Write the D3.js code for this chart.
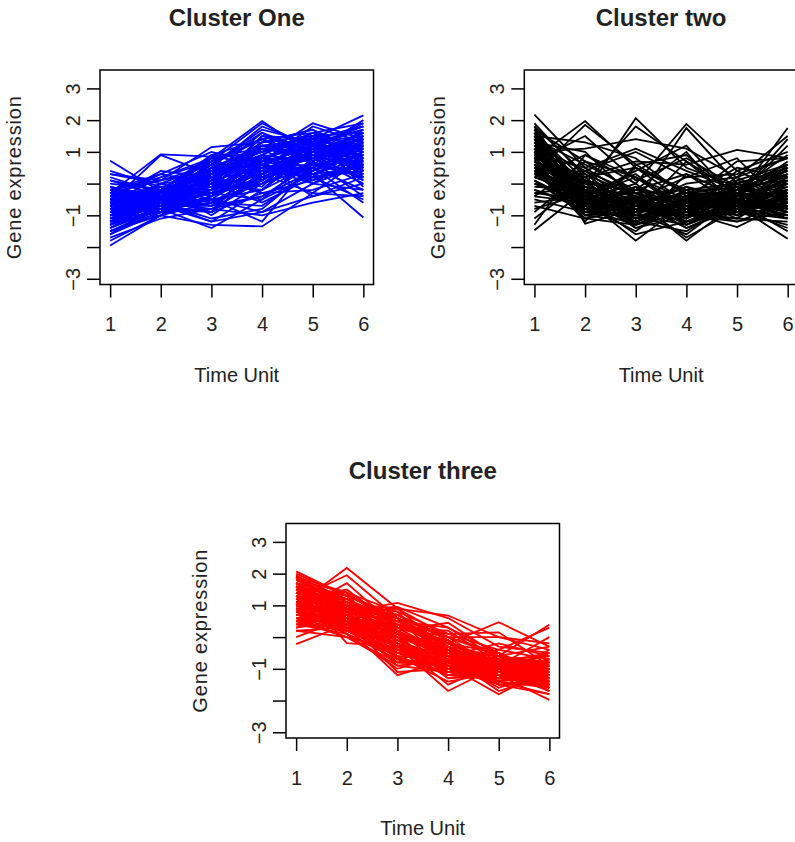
<!DOCTYPE html>
<html>
<head>
<meta charset="utf-8">
<script src="https://cdn.jsdelivr.net/npm/d3@7"></script>
<style>
body { margin: 0; background: #fff; }
svg text { font-family: "Liberation Sans", Arial, Helvetica, sans-serif; fill: #222; }
</style>
</head>
<body>
<div id="chart"></div>
<script>
// time points and axis ticks
var timeUnits = [1, 2, 3, 4, 5, 6];
var yTicks = [-3, -2, -1, 0, 1, 2, 3];
var yTickLabels = ["\u22123", "", "\u22121", "", "1", "2", "3"];
var titles = ["Cluster One", "Cluster two", "Cluster three"];

// one row per gene, values at time 1..6
var clusterOne = [
    [0.72, -0.25, -0.3, 0.2, 0.9, 1.2],
    [-1.95, -1.0, -0.6, 0.3, 1.0, 0.8],
    [-0.3, 0.92, 0.85, 1.1, 1.3, 1.5],
    [-0.6, 0.9, 0.3, 0.6, 0.4, 0.9],
    [-0.2, 0.1, 1.15, 1.3, 1.5, 1.6],
    [-0.5, -0.2, 0.8, 1.97, 0.9, 1.2],
    [-0.8, -0.4, 0.2, 0.9, 1.9, 1.4],
    [-0.6, -0.3, 0.5, 1.2, 1.4, 2.15],
    [-0.9, -0.8, -1.4, -0.5, 0.3, 0.5],
    [-1.2, -1.0, -1.3, -1.35, -0.3, -0.4],
    [-0.5, -0.6, -0.8, -1.0, -0.6, -0.3],
    [-0.3, -0.5, 0.1, 0.5, 0.3, -1.07],
    [0.4, -0.1, -0.5, -0.2, 0.6, 0.3],
    [0.3, 0.0, 0.2, 0.7, 1.1, 0.9],
    [0.1, -0.4, -0.9, -0.3, 0.1, 0.7],
    [-1.6, -0.9, -0.4, 0.6, 1.2, 1.7],
    [-1.4, -0.7, 0.0, 0.4, 0.8, 0.2],
    [-1.1, -0.5, -0.2, 1.5, 1.0, 0.6],
    [-0.7, -0.2, 0.4, 1.0, 1.6, 1.9],
    [-1.3, -0.6, -1.1, -0.8, 0.5, 1.1],
    [-0.9, -0.3, 0.6, 1.7, 1.3, 0.4],
    [-0.4, 0.3, 0.0, -0.6, 0.2, 1.3],
    [-1.0, -0.8, -0.6, 0.1, 1.4, 1.8],
    [-0.8, -0.1, -0.3, 0.9, 0.0, -0.2],
    [-1.5, -0.9, 0.3, 1.3, 1.7, 1.0],
    [-0.2, -0.7, -1.2, -0.9, -0.4, 0.0],
    [-0.6, 0.2, 0.7, 1.4, 0.6, 1.5],
    [-1.2, -0.4, -0.7, 0.2, 0.9, 0.5],
    [0.2, -0.3, 0.4, 0.8, 1.2, 0.1],
    [-1.7, -1.1, -0.8, -0.4, 0.4, 1.4],
    [-0.1, -0.5, -0.1, 0.3, -0.3, 0.8],
    [-1.0, -0.2, 0.9, 0.5, 1.5, 1.2],
    [-0.7, -0.6, -0.5, -1.2, 0.7, 1.6],
    [-1.3, -0.8, 0.1, 1.1, 0.2, -0.5],
    [-0.4, -0.1, -1.0, 0.0, 1.1, 1.9],
    [-0.9, -0.4, 0.5, 1.8, 1.2, 0.7],
    [-0.5, 0.4, 0.2, -0.3, -0.2, 0.3],
    [-1.1, -0.7, -0.3, 0.7, 1.8, 1.3],
    [-0.3, -0.6, 0.6, 0.2, 0.5, -0.6],
    [-1.4, -0.5, -0.9, 0.4, 1.0, 2.0],
    [-0.6, -0.9, 0.0, 1.2, 0.8, 0.0],
    [-0.2, 0.3, 1.0, 0.6, 0.1, 0.6],
    [-0.8, -0.3, -0.6, -0.7, 0.4, 1.0],
    [-1.8, -1.0, -0.2, 0.9, 1.6, 1.1],
    [0.0, -0.2, 0.3, 1.6, 0.7, 1.7],
    [-1.0, -0.6, -1.2, -0.2, 1.3, 0.4],
    [-0.5, -0.4, 0.8, 0.1, 1.0, 1.4],
    [-0.7, 0.0, -0.4, 0.6, -0.4, 0.2],
    [-1.2, -0.9, 0.4, 1.0, 1.4, 1.8],
    [-0.4, -0.7, -0.7, 0.5, 0.6, 0.9],
    [-0.9, -0.1, 0.1, 1.3, 1.7, 0.8],
    [-1.5, -0.8, -0.5, -0.9, 0.0, 0.6],
    [0.3, 0.1, 0.6, 0.3, 0.9, 1.6],
    [-0.6, -0.5, 0.2, -0.1, 1.5, -0.1],
    [-1.1, -0.2, 0.7, 1.9, 1.1, 1.2],
    [-0.3, -0.8, -0.9, 0.8, 0.3, 1.0],
    [-0.8, -0.6, 0.5, 0.4, 1.2, 0.3],
    [-1.3, -0.3, -0.1, 1.1, 0.8, 1.5],
    [-0.1, -0.4, 0.9, 1.4, 1.6, 0.5],
    [-1.0, -0.7, -0.3, 0.0, 0.5, -0.2],
    [-0.7, -0.5, -0.2, 0.3, 1.0, 1.1],
    [-1.2, -0.6, 0.2, 0.8, 1.3, 0.9],
    [-0.4, -0.3, -0.6, 0.0, 0.7, 1.3],
    [-0.9, -0.7, 0.3, 0.6, 0.2, 0.4],
    [-0.2, -0.4, 0.5, 1.1, 1.0, 1.6],
    [-1.4, -0.8, -0.4, 0.2, 0.6, 0.7],
    [-0.6, -0.1, 0.0, 0.8, 1.4, 0.2],
    [-1.0, -0.5, 0.6, 1.4, 0.9, 1.4],
    [0.1, -0.2, -0.2, 0.4, 0.5, 1.1],
    [-0.8, -0.9, -0.8, 0.1, 1.1, 0.6],
    [-1.2, -0.3, 0.3, 0.7, 0.4, 1.2],
    [-0.5, -0.7, 0.1, 1.3, 1.5, 0.8],
    [-1.6, -0.6, -0.3, -0.5, 0.8, 1.3],
    [-0.3, 0.1, 0.4, 0.9, 0.7, -0.4],
    [-0.9, -0.4, -0.1, 0.6, 1.3, 1.7],
    [-0.7, -0.6, 0.7, 0.2, 0.9, 0.1],
    [-1.1, -0.9, -0.5, 0.5, 0.0, 0.9],
    [-0.4, -0.2, 0.2, 1.2, 1.1, 1.0],
    [-1.3, -0.5, 0.5, 0.3, 1.2, 0.5],
    [-0.6, -0.8, -0.4, 0.8, 0.5, 1.5],
    [-0.2, 0.2, 0.8, 1.0, 1.3, 0.7],
    [-1.0, -0.4, -0.7, -0.4, 0.6, 0.2],
    [-0.8, -0.2, 0.0, 1.5, 1.4, 1.1],
    [-1.5, -1.0, 0.2, 0.9, 0.3, 0.8],
    [-0.5, -0.5, -0.3, 0.1, 1.2, 1.8],
    [-0.1, -0.6, 0.3, 0.7, 0.9, 0.4],
    [-1.2, -0.7, -0.9, 0.3, 0.8, 1.2],
    [-0.7, 0.0, 0.6, 1.6, 1.0, 0.9],
    [-0.9, -0.6, 0.0, -0.2, 1.0, 1.4],
    [-0.3, -0.3, 0.4, 0.4, 0.2, 0.6]
];

var clusterTwo = [
    [2.17, 0.5, -0.5, -0.8, -0.3, 0.0],
    [-1.47, -0.2, -0.6, -0.3, -0.8, -0.5],
    [-1.3, 0.9, 0.2, -0.5, -0.2, 0.4],
    [0.8, 1.97, 0.5, -0.2, 0.0, -0.5],
    [0.3, 1.85, 0.6, 0.9, -0.4, -0.8],
    [0.2, -0.3, 2.06, 0.5, -0.1, 0.3],
    [0.6, 0.0, 1.8, 0.7, -0.3, -0.6],
    [1.0, 1.1, 1.4, 1.1, 0.2, 0.8],
    [0.5, -0.5, 0.0, 1.88, 0.4, -0.3],
    [0.9, -0.2, -0.6, 1.75, 0.0, 0.5],
    [0.4, 0.2, 0.7, 0.6, 1.06, 0.8],
    [0.6, -0.3, -0.9, -0.7, -0.4, 1.75],
    [0.8, -0.5, -1.8, -0.6, -0.9, -0.4],
    [0.3, -0.8, -0.5, -1.8, -0.6, -1.0],
    [1.2, -0.6, -1.0, -0.9, -1.37, -0.6],
    [0.7, -0.4, -0.8, -1.0, -0.7, -1.74],
    [1.5, -1.26, -0.8, -1.2, -0.5, -0.9],
    [1.8, 0.3, -0.4, -0.6, -0.2, 0.2],
    [1.6, -0.7, -1.2, -0.5, -0.6, -0.3],
    [1.4, 0.6, -0.2, 0.3, -0.4, 1.4],
    [1.1, -0.9, -0.6, -1.4, -0.8, -0.6],
    [-0.4, 0.7, -0.3, -0.8, -0.5, 0.1],
    [-0.9, 0.4, -0.7, -1.1, -0.3, -0.8],
    [1.9, 0.2, 0.5, -0.3, -0.7, -0.2],
    [0.1, -0.7, -1.5, -0.4, -0.6, 0.3],
    [0.5, -1.0, -0.4, -1.2, -0.9, -1.3],
    [1.3, 1.0, -0.5, 0.2, 0.3, 0.8],
    [-0.2, -0.8, -1.1, -0.6, 0.1, 0.6],
    [1.7, -0.3, 0.3, -0.9, -1.1, -1.2],
    [0.0, -0.6, -0.9, -1.6, -0.4, -0.1],
    [0.9, 0.5, 1.1, 0.4, -0.2, -0.4],
    [0.4, -1.1, -1.3, -0.7, -1.0, -0.7],
    [1.0, -0.4, 0.4, 1.2, -0.5, -1.1],
    [-0.5, -0.9, -0.5, -0.9, -0.6, -0.5],
    [1.5, 1.3, 0.8, -0.4, 0.5, 0.2],
    [0.7, -0.2, -1.4, -1.0, -0.2, 0.9],
    [-1.1, 0.1, -0.3, -0.2, -0.8, -1.4],
    [1.2, -0.8, -0.7, 0.0, 0.2, -0.6],
    [0.2, 0.9, 0.0, -1.3, -0.4, 1.2],
    [1.6, -0.1, -1.0, -0.8, -1.2, -0.9],
    [0.6, -1.2, 0.6, -0.3, 0.0, 0.4],
    [-0.3, -0.5, -1.6, -1.2, -0.7, -0.2],
    [1.1, 0.0, -0.2, 1.0, -0.9, 0.0],
    [0.8, -0.7, -0.4, -0.5, 0.7, 0.8],
    [1.4, -1.0, -1.2, -1.5, -0.5, -1.0],
    [-0.6, -0.4, 0.2, -0.7, -0.3, -0.7],
    [0.5, 0.3, -0.8, -0.1, -1.0, 0.5],
    [1.3, -0.6, -0.1, -1.1, 0.1, -0.3],
    [0.1, -1.0, -0.9, 0.7, -0.6, -1.5],
    [1.7, 0.7, 0.2, -0.9, -0.4, -0.4],
    [-0.8, -0.3, -1.1, -0.4, -1.1, 0.1],
    [0.3, 0.4, 1.0, 0.2, 0.8, -0.8],
    [1.0, -0.9, -0.6, -1.7, -0.8, -0.2],
    [0.7, 1.5, 0.1, 0.8, -0.1, 0.6],
    [-0.1, -0.2, -0.7, -0.9, 0.4, 1.0],
    [1.8, -0.5, -0.9, -0.2, -0.9, -1.1],
    [0.4, -0.7, 0.5, -0.6, -0.2, -0.9],
    [1.2, 0.1, -1.3, 0.3, -0.7, -0.5],
    [-0.7, -1.1, -0.8, -1.0, -1.2, -0.6],
    [0.9, -0.4, -0.3, -0.8, 0.2, 1.5],
    [1.3, -0.3, -0.9, -0.8, -0.5, -0.2],
    [0.6, -0.6, -0.5, -1.1, -0.3, 0.3],
    [1.6, 0.1, -1.1, -0.4, -0.8, -0.7],
    [0.2, -0.4, -0.8, -0.9, -0.2, 0.5],
    [1.0, -0.8, -1.3, -0.6, -0.6, -0.9],
    [-0.3, -0.1, -0.4, -1.0, -0.9, -0.3],
    [1.5, -0.5, -0.6, -0.3, -0.1, 0.1],
    [0.8, 0.2, -1.0, -1.3, -0.7, -0.6],
    [1.1, -0.7, -0.2, -0.7, -0.4, 0.7],
    [0.4, -0.2, -1.2, -0.5, -0.9, -1.0],
    [1.8, -0.9, -0.7, -1.0, -0.3, -0.4],
    [0.0, -0.5, -0.6, -0.4, -0.5, -0.8],
    [1.2, 0.4, -0.3, -1.2, -0.6, 0.2],
    [0.7, -0.9, -1.0, -0.2, -1.0, -0.3],
    [1.4, -0.4, -1.4, -0.8, 0.0, -0.6],
    [-0.2, -0.7, -0.9, -0.6, -0.4, 0.0],
    [0.9, -0.1, -0.5, -1.4, -0.7, -1.1],
    [1.6, -0.6, -0.2, -0.5, -0.8, 0.6],
    [0.3, -0.3, -1.1, -0.9, -0.1, -0.5],
    [1.0, -1.0, -0.7, -0.1, -0.5, -0.8],
    [0.5, 0.1, -0.6, -1.0, -1.1, -0.2],
    [1.7, -0.2, -0.8, -0.7, -0.6, -1.0],
    [-0.4, -0.6, -1.2, -0.8, -0.2, 0.4],
    [1.1, -0.5, -0.4, -1.1, -0.4, -0.4],
    [0.6, -0.8, -0.1, -0.6, -0.8, -0.1],
    [1.3, 0.0, -0.9, -0.3, -0.3, -0.7],
    [0.1, -0.9, -0.5, -1.3, -0.7, 0.2],
    [0.9, -0.3, -1.3, -0.9, -0.9, -0.6],
    [1.5, -0.7, -0.6, -0.4, -0.2, -0.9],
    [0.4, -0.4, -0.3, -0.7, -0.6, -0.3]
];

var clusterThree = [
    [2.07, 1.3, 0.6, -0.2, -0.8, -1.0],
    [1.95, 1.1, 0.2, -0.6, -1.1, -1.4],
    [1.85, 0.9, 0.4, -0.4, -0.7, -0.8],
    [-0.22, 0.4, 0.0, -0.6, -1.0, -1.2],
    [0.0, 0.6, -0.3, -0.9, -1.2, -1.5],
    [0.2, 0.3, 0.5, -0.3, -0.9, -0.6],
    [1.0, 2.18, 0.9, 0.0, -0.6, -0.9],
    [1.2, 1.95, 0.6, -0.5, -0.9, -1.1],
    [0.8, 1.7, 0.3, -0.1, -1.0, -0.7],
    [1.6, -0.19, -0.3, -0.8, -1.2, -1.3],
    [1.1, 0.8, 1.08, 0.6, -0.3, -0.5],
    [0.9, 0.9, 0.95, 0.3, -0.5, -1.2],
    [0.8, 0.3, -1.2, -0.7, -1.3, -1.5],
    [1.3, 0.7, 0.9, 0.68, 0.0, -0.4],
    [0.6, 0.4, 0.2, 0.45, -0.6, -0.8],
    [1.0, 0.5, -0.3, -1.7, -0.9, -1.1],
    [0.9, 0.8, 0.3, -0.2, 0.47, -0.3],
    [1.4, 0.6, -0.2, -0.9, -1.8, -1.0],
    [0.7, 0.5, 0.1, -0.5, -0.6, 0.39],
    [1.5, 0.9, 0.2, -0.5, -1.2, -1.98],
    [1.2, 1.0, 0.7, 0.0, 0.0, -0.2],
    [1.7, 1.2, 0.5, -0.3, -1.0, -0.9],
    [0.5, 0.2, -0.5, -1.0, -1.4, -1.6],
    [1.3, 0.4, -0.8, -0.6, -0.8, -1.3],
    [1.8, 1.4, 0.8, 0.1, -0.4, -0.7],
    [0.4, 0.1, -0.6, -1.2, -1.0, -0.5],
    [1.1, 0.7, 0.0, -0.4, -1.5, -1.8],
    [1.6, 1.0, -0.1, -1.1, -0.7, -1.0],
    [0.6, 0.0, -0.4, -0.8, -1.1, -1.4],
    [1.9, 1.2, 0.4, -0.2, -0.5, -1.2],
    [0.3, 0.5, -0.9, -0.7, -1.3, -0.9],
    [1.4, 0.9, 0.6, -0.6, -0.9, -1.6],
    [0.8, 0.2, -0.2, -1.3, -1.2, -0.8],
    [1.2, 1.5, 0.3, 0.2, -0.8, -1.1],
    [0.7, 0.6, -0.7, -0.9, -1.4, -1.2],
    [1.5, 0.3, 0.1, -0.3, -0.6, -0.3],
    [1.0, 0.8, -0.4, -1.0, -1.0, -1.7],
    [2.0, 1.3, 0.7, -0.1, -1.1, -1.5],
    [0.5, 0.9, 0.1, -0.6, -0.2, -0.6],
    [1.3, 0.1, -1.0, -0.5, -1.5, -1.3],
    [0.9, 1.1, 0.5, 0.3, -0.7, -1.0],
    [1.7, 0.7, -0.3, -0.8, -1.3, -1.4],
    [0.6, 0.4, -0.1, -0.2, -0.9, 0.0],
    [1.1, 1.2, 0.2, -0.7, -1.6, -1.1],
    [1.4, 0.5, -0.6, -1.4, -1.1, -0.7],
    [0.2, 0.0, -0.8, -0.9, -1.2, -1.3],
    [1.8, 1.0, 0.9, -0.4, -0.8, -0.5],
    [0.8, 0.6, 0.4, 0.1, 0.15, -0.9],
    [1.6, 1.3, -0.2, -1.1, -1.4, -1.8],
    [1.0, 0.3, -0.5, -0.3, -1.0, -1.1],
    [1.3, 1.1, 0.6, -0.9, -0.6, -1.5],
    [0.4, 0.7, 0.0, -1.2, -1.3, -0.4],
    [1.9, 0.8, -0.4, -0.7, -1.2, -1.0],
    [0.9, 0.2, 0.3, 0.0, -0.5, -1.6],
    [1.5, 1.4, -0.7, -0.4, -1.1, -1.2],
    [0.7, 1.0, 0.8, -0.8, -0.4, 0.3],
    [1.2, 0.5, -1.1, -1.0, -1.5, -1.4],
    [1.7, 0.9, 0.0, -0.1, -0.9, -0.8],
    [0.3, 0.8, 0.2, -0.6, -1.7, -1.2],
    [1.1, 0.4, -0.2, -1.5, -0.8, -1.7],
    [1.0, 0.7, 0.1, -0.4, -1.0, -1.2],
    [1.5, 1.0, 0.3, -0.6, -0.8, -1.0],
    [0.7, 0.3, -0.3, -0.8, -1.2, -0.9],
    [1.8, 1.1, 0.5, -0.2, -0.9, -1.3],
    [1.2, 0.6, -0.1, -0.7, -1.1, -0.7],
    [0.5, 0.5, 0.0, -0.5, -1.0, -1.4],
    [1.6, 0.8, 0.2, -1.0, -1.3, -1.1],
    [0.9, 0.4, -0.5, -0.9, -0.7, -0.6],
    [1.4, 1.2, 0.4, -0.3, -1.2, -1.5],
    [0.8, 0.1, -0.7, -1.1, -1.0, -1.0],
    [1.9, 1.0, 0.1, -0.5, -0.7, -1.2],
    [1.1, 0.5, -0.3, -0.6, -1.4, -0.9],
    [0.6, 0.8, 0.5, -0.2, -0.8, -1.3],
    [1.3, 0.2, -0.6, -1.2, -0.9, -1.6],
    [1.7, 1.3, 0.6, 0.0, -1.0, -0.8],
    [0.4, 0.3, -0.2, -0.7, -1.3, -1.0],
    [1.2, 0.9, -0.4, -0.4, -0.6, -1.4],
    [1.0, 0.6, 0.7, -0.1, -1.1, -0.5],
    [1.6, 0.4, -0.8, -0.9, -1.2, -1.1],
    [0.8, 1.1, 0.2, -0.8, -0.9, -1.5],
    [1.4, 0.7, -0.5, -0.3, -1.4, -1.0],
    [0.5, 0.0, -0.9, -1.1, -1.1, -0.8],
    [1.9, 1.4, 0.3, -0.6, -0.5, -1.3],
    [1.1, 0.2, 0.0, -1.0, -1.2, -1.2],
    [0.9, 0.9, 0.6, -0.5, -1.0, -0.7],
    [1.5, 0.5, -0.3, -0.8, -1.5, -1.5],
    [0.7, 0.7, -0.6, -0.6, -0.8, -1.1],
    [1.3, 1.0, 0.1, -1.3, -1.0, -0.9],
    [1.7, 0.6, 0.4, -0.4, -1.1, -1.7],
    [0.6, 0.2, -0.4, -1.0, -0.6, -1.3]
];

var svgWidth = 795;
var svgHeight = 842;
var plotW = 273.5;
var plotH = 214.5;

var svg = d3.select("#chart")
    .append("svg")
    .attr("width", svgWidth)
    .attr("height", svgHeight);

// three panels, third one centred below
var panels = [
    { title: titles[0], data: clusterOne, color: "#0000ff", left: 100, top: 70 },
    { title: titles[1], data: clusterTwo, color: "#000000", left: 524.3, top: 70 },
    { title: titles[2], data: clusterThree, color: "#ff0000", left: 286, top: 523.5 }
];

panels.forEach(function (p) {
    var g = svg.append("g")
        .attr("transform", `translate(${p.left}, ${p.top})`);

    var x = d3.scaleLinear().domain([0.8, 6.2]).range([0, plotW]);
    var y = d3.scaleLinear().domain([-3.18, 3.58]).range([plotH, 0]);

    var line = d3.line()
        .x((d, i) => x(timeUnits[i]))
        .y(d => y(d));

    g.append("g").selectAll("path")
        .data(p.data)
        .enter()
        .append("path")
        .attr("d", line)
        .attr("fill", "none")
        .attr("stroke", p.color)
        .attr("stroke-width", 1.8)
        .attr("stroke-linejoin", "miter");

    // box
    g.append("rect")
        .attr("width", plotW)
        .attr("height", plotH)
        .attr("fill", "none")
        .attr("stroke", "#000")
        .attr("stroke-width", 1.5);

    // x axis
    var xAxis = g.append("g")
        .attr("transform", `translate(0, ${plotH})`)
        .call(d3.axisBottom(x).tickValues(timeUnits).tickSize(13).tickFormat(d3.format("d")));
    xAxis.select(".domain").remove();
    xAxis.selectAll("line").attr("stroke", "#000").attr("stroke-width", 1.5);
    xAxis.selectAll("text")
        .attr("y", 46.5)
        .attr("dy", 0)
        .style("font-size", "20px");

    // y axis, labels turned like R's las = 0
    var yAxis = g.append("g")
        .call(d3.axisLeft(y).tickValues(yTicks).tickSize(13)
            .tickFormat((d, i) => yTickLabels[i]));
    yAxis.select(".domain").remove();
    yAxis.selectAll("line").attr("stroke", "#000").attr("stroke-width", 1.5);
    yAxis.selectAll("text")
        .attr("x", 0)
        .attr("y", -20.5)
        .attr("dy", 0)
        .attr("transform", "rotate(-90)")
        .attr("text-anchor", "middle")
        .style("font-size", "20px");

    // titles and axis names
    g.append("text")
        .attr("x", plotW / 2)
        .attr("y", -44.5)
        .attr("text-anchor", "middle")
        .style("font-size", "24px")
        .style("font-weight", "bold")
        .text(p.title);

    g.append("text")
        .attr("x", plotW / 2)
        .attr("y", 311.5)
        .attr("text-anchor", "middle")
        .style("font-size", "20px")
        .text("Time Unit");

    g.append("text")
        .attr("transform", `translate(-79, ${plotH / 2}) rotate(-90)`)
        .attr("text-anchor", "middle")
        .style("font-size", "20px")
        .style("letter-spacing", "0.85px")
        .text("Gene expression");
});
</script>
</body>
</html>
